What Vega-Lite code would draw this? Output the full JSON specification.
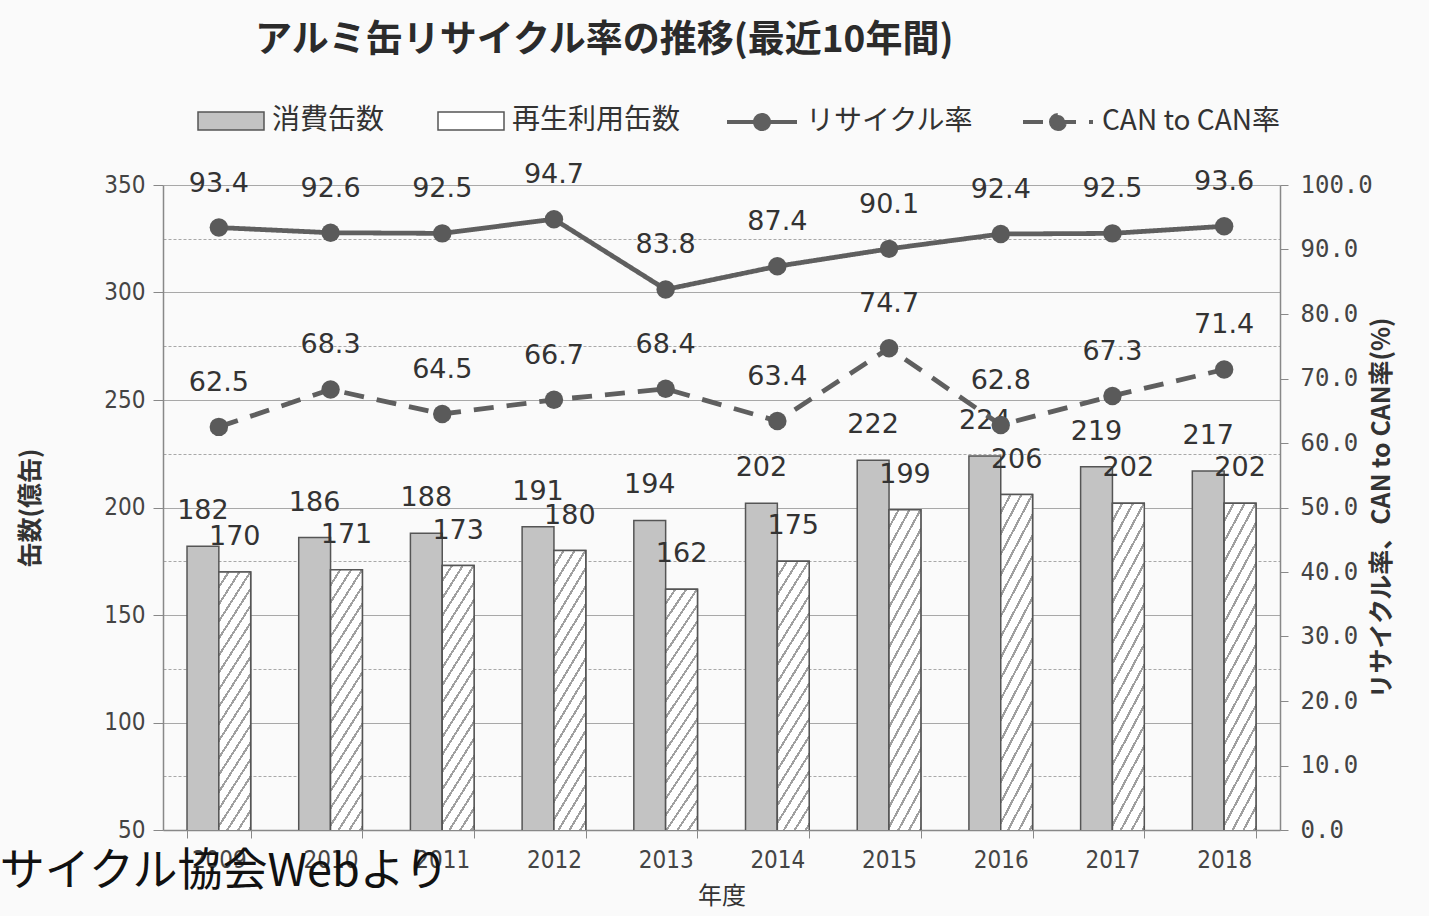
{
  "$schema": "https://vega.github.io/schema/vega-lite/v6.json",
  "width": 1117,
  "height": 645,
  "autosize": {"type": "none"},
  "padding": {"left": 163, "top": 185, "right": 149, "bottom": 86},
  "background": "#fafafa",
  "title": {
    "text": "アルミ缶リサイクル率の推移(最近10年間)",
    "anchor": "start",
    "frame": "group",
    "dx": 92,
    "offset": 25,
    "font": "Noto Sans CJK JP",
    "fontSize": 37,
    "fontWeight": "bold",
    "color": "#2b2b2b"
  },
  "config": {
    "view": {"stroke": null},
    "text": {"font": "DejaVu Sans", "fontSize": 27, "color": "#333333"},
    "legend": {
      "direction": "horizontal",
      "title": null,
      "labelFont": "Noto Sans CJK JP",
      "labelFontSize": 28,
      "labelColor": "#333333",
      "labelLimit": 400,
      "labelOffset": 7
    }
  },
  "data": {
    "values": [
      {"year": "2009", "series": "消費缶数", "value": 182},
      {"year": "2010", "series": "消費缶数", "value": 186},
      {"year": "2011", "series": "消費缶数", "value": 188},
      {"year": "2012", "series": "消費缶数", "value": 191},
      {"year": "2013", "series": "消費缶数", "value": 194},
      {"year": "2014", "series": "消費缶数", "value": 202},
      {"year": "2015", "series": "消費缶数", "value": 222},
      {"year": "2016", "series": "消費缶数", "value": 224},
      {"year": "2017", "series": "消費缶数", "value": 219},
      {"year": "2018", "series": "消費缶数", "value": 217},
      {"year": "2009", "series": "再生利用缶数", "value": 170},
      {"year": "2010", "series": "再生利用缶数", "value": 171},
      {"year": "2011", "series": "再生利用缶数", "value": 173},
      {"year": "2012", "series": "再生利用缶数", "value": 180},
      {"year": "2013", "series": "再生利用缶数", "value": 162},
      {"year": "2014", "series": "再生利用缶数", "value": 175},
      {"year": "2015", "series": "再生利用缶数", "value": 199},
      {"year": "2016", "series": "再生利用缶数", "value": 206},
      {"year": "2017", "series": "再生利用缶数", "value": 202},
      {"year": "2018", "series": "再生利用缶数", "value": 202},
      {"year": "2009", "series": "リサイクル率", "value": 93.4},
      {"year": "2010", "series": "リサイクル率", "value": 92.6},
      {"year": "2011", "series": "リサイクル率", "value": 92.5},
      {"year": "2012", "series": "リサイクル率", "value": 94.7},
      {"year": "2013", "series": "リサイクル率", "value": 83.8},
      {"year": "2014", "series": "リサイクル率", "value": 87.4},
      {"year": "2015", "series": "リサイクル率", "value": 90.1},
      {"year": "2016", "series": "リサイクル率", "value": 92.4},
      {"year": "2017", "series": "リサイクル率", "value": 92.5},
      {"year": "2018", "series": "リサイクル率", "value": 93.6},
      {"year": "2009", "series": "CAN to CAN率", "value": 62.5},
      {"year": "2010", "series": "CAN to CAN率", "value": 68.3},
      {"year": "2011", "series": "CAN to CAN率", "value": 64.5},
      {"year": "2012", "series": "CAN to CAN率", "value": 66.7},
      {"year": "2013", "series": "CAN to CAN率", "value": 68.4},
      {"year": "2014", "series": "CAN to CAN率", "value": 63.4},
      {"year": "2015", "series": "CAN to CAN率", "value": 74.7},
      {"year": "2016", "series": "CAN to CAN率", "value": 62.8},
      {"year": "2017", "series": "CAN to CAN率", "value": 67.3},
      {"year": "2018", "series": "CAN to CAN率", "value": 71.4},
      {"year": "2009", "series": "出典", "value": 50, "note": "サイクル協会Webより"}
    ]
  },
  "encoding": {
    "x": {
      "field": "year",
      "type": "nominal",
      "sort": null,
      "scale": {"paddingInner": 0.43, "paddingOuter": 0.215},
      "axis": {
        "title": "年度",
        "labelAngle": 0,
        "tickBand": "extent",
        "tickSize": 8,
        "tickColor": "#888888",
        "domainColor": "#888888",
        "domainWidth": 1.5,
        "labelFont": "DejaVu Sans Condensed",
        "labelFontSize": 24,
        "labelColor": "#444444",
        "labelPadding": 10,
        "titleFont": "Noto Sans CJK JP",
        "titleFontSize": 24,
        "titleFontWeight": "normal",
        "titleColor": "#333333",
        "titlePadding": 12
      }
    }
  },
  "layer": [
    {
      "encoding": {
        "y": {
          "field": "value",
          "type": "quantitative",
          "scale": {"domain": [50, 350], "nice": false, "zero": false},
          "axis": {
            "orient": "left",
            "values": [50, 75, 100, 125, 150, 175, 200, 225, 250, 275, 300, 325, 350],
            "labelExpr": "datum.value % 50 === 0 ? datum.label : ''",
            "title": "缶数(億缶)",
            "titleFont": "Noto Sans CJK JP",
            "titleFontSize": 25,
            "titleFontWeight": "bold",
            "titleColor": "#333333",
            "titlePadding": 60,
            "labelFont": "DejaVu Sans Condensed",
            "labelFontSize": 24,
            "labelColor": "#444444",
            "labelPadding": 8,
            "tickSize": 10,
            "tickColor": {"condition": {"test": "datum.value % 50 === 0", "value": "#888888"}, "value": "transparent"},
            "domainColor": "#888888",
            "domainWidth": 1.5,
            "grid": true,
            "gridColor": "#a8a8a8",
            "gridWidth": 1.2,
            "gridDash": {"condition": {"test": "datum.value % 50 === 0", "value": []}, "value": [3, 2]}
          }
        }
      },
      "layer": [
        {
          "transform": [{"filter": {"field": "series", "oneOf": ["消費缶数", "再生利用缶数"]}}],
          "mark": {"type": "bar", "stroke": "#555555", "strokeWidth": 1.5, "opacity": 1, "clip": true},
          "encoding": {
            "xOffset": {"field": "series", "type": "nominal", "scale": {"domain": ["消費缶数", "再生利用缶数"], "paddingInner": 0, "paddingOuter": 0}},
            "color": {
              "field": "series",
              "type": "nominal",
              "scale": {"domain": ["消費缶数", "再生利用缶数"], "range": ["#c3c3c3", "#ffffff"]},
              "legend": {
                "orient": "none",
                "legendX": 34,
                "legendY": -98,
                "columnPadding": 50,
                "symbolType": "M-1,-0.27H1V0.27H-1Z",
                "symbolSize": 4356,
                "symbolStrokeColor": "#555555",
                "symbolStrokeWidth": 1.5,
                "symbolOpacity": 1
              }
            }
          }
        },
        {
          "transform": [{"filter": "datum.series === '再生利用缶数'"}],
          "mark": {
            "type": "bar",
            "clip": true,
            "stroke": "#555555",
            "strokeWidth": 1.5,
            "fill": {
              "gradient": "linear", "x1": 0, "y1": 0, "x2": 0.15, "y2": 1.1,
              "stops": [
                {"offset": 0, "color": "#ffffff"}, {"offset": 0.0325, "color": "#ffffff"}, {"offset": 0.0325, "color": "#a0a0a0"}, {"offset": 0.041667, "color": "#a0a0a0"},
                {"offset": 0.041667, "color": "#ffffff"}, {"offset": 0.074167, "color": "#ffffff"}, {"offset": 0.074167, "color": "#a0a0a0"}, {"offset": 0.083333, "color": "#a0a0a0"},
                {"offset": 0.083333, "color": "#ffffff"}, {"offset": 0.115833, "color": "#ffffff"}, {"offset": 0.115833, "color": "#a0a0a0"}, {"offset": 0.125, "color": "#a0a0a0"},
                {"offset": 0.125, "color": "#ffffff"}, {"offset": 0.1575, "color": "#ffffff"}, {"offset": 0.1575, "color": "#a0a0a0"}, {"offset": 0.166667, "color": "#a0a0a0"},
                {"offset": 0.166667, "color": "#ffffff"}, {"offset": 0.199167, "color": "#ffffff"}, {"offset": 0.199167, "color": "#a0a0a0"}, {"offset": 0.208333, "color": "#a0a0a0"},
                {"offset": 0.208333, "color": "#ffffff"}, {"offset": 0.240833, "color": "#ffffff"}, {"offset": 0.240833, "color": "#a0a0a0"}, {"offset": 0.25, "color": "#a0a0a0"},
                {"offset": 0.25, "color": "#ffffff"}, {"offset": 0.2825, "color": "#ffffff"}, {"offset": 0.2825, "color": "#a0a0a0"}, {"offset": 0.291667, "color": "#a0a0a0"},
                {"offset": 0.291667, "color": "#ffffff"}, {"offset": 0.324167, "color": "#ffffff"}, {"offset": 0.324167, "color": "#a0a0a0"}, {"offset": 0.333333, "color": "#a0a0a0"},
                {"offset": 0.333333, "color": "#ffffff"}, {"offset": 0.365833, "color": "#ffffff"}, {"offset": 0.365833, "color": "#a0a0a0"}, {"offset": 0.375, "color": "#a0a0a0"},
                {"offset": 0.375, "color": "#ffffff"}, {"offset": 0.4075, "color": "#ffffff"}, {"offset": 0.4075, "color": "#a0a0a0"}, {"offset": 0.416667, "color": "#a0a0a0"},
                {"offset": 0.416667, "color": "#ffffff"}, {"offset": 0.449167, "color": "#ffffff"}, {"offset": 0.449167, "color": "#a0a0a0"}, {"offset": 0.458333, "color": "#a0a0a0"},
                {"offset": 0.458333, "color": "#ffffff"}, {"offset": 0.490833, "color": "#ffffff"}, {"offset": 0.490833, "color": "#a0a0a0"}, {"offset": 0.5, "color": "#a0a0a0"},
                {"offset": 0.5, "color": "#ffffff"}, {"offset": 0.5325, "color": "#ffffff"}, {"offset": 0.5325, "color": "#a0a0a0"}, {"offset": 0.541667, "color": "#a0a0a0"},
                {"offset": 0.541667, "color": "#ffffff"}, {"offset": 0.574167, "color": "#ffffff"}, {"offset": 0.574167, "color": "#a0a0a0"}, {"offset": 0.583333, "color": "#a0a0a0"},
                {"offset": 0.583333, "color": "#ffffff"}, {"offset": 0.615833, "color": "#ffffff"}, {"offset": 0.615833, "color": "#a0a0a0"}, {"offset": 0.625, "color": "#a0a0a0"},
                {"offset": 0.625, "color": "#ffffff"}, {"offset": 0.6575, "color": "#ffffff"}, {"offset": 0.6575, "color": "#a0a0a0"}, {"offset": 0.666667, "color": "#a0a0a0"},
                {"offset": 0.666667, "color": "#ffffff"}, {"offset": 0.699167, "color": "#ffffff"}, {"offset": 0.699167, "color": "#a0a0a0"}, {"offset": 0.708333, "color": "#a0a0a0"},
                {"offset": 0.708333, "color": "#ffffff"}, {"offset": 0.740833, "color": "#ffffff"}, {"offset": 0.740833, "color": "#a0a0a0"}, {"offset": 0.75, "color": "#a0a0a0"},
                {"offset": 0.75, "color": "#ffffff"}, {"offset": 0.7825, "color": "#ffffff"}, {"offset": 0.7825, "color": "#a0a0a0"}, {"offset": 0.791667, "color": "#a0a0a0"},
                {"offset": 0.791667, "color": "#ffffff"}, {"offset": 0.824167, "color": "#ffffff"}, {"offset": 0.824167, "color": "#a0a0a0"}, {"offset": 0.833333, "color": "#a0a0a0"},
                {"offset": 0.833333, "color": "#ffffff"}, {"offset": 0.865833, "color": "#ffffff"}, {"offset": 0.865833, "color": "#a0a0a0"}, {"offset": 0.875, "color": "#a0a0a0"},
                {"offset": 0.875, "color": "#ffffff"}, {"offset": 0.9075, "color": "#ffffff"}, {"offset": 0.9075, "color": "#a0a0a0"}, {"offset": 0.916667, "color": "#a0a0a0"},
                {"offset": 0.916667, "color": "#ffffff"}, {"offset": 0.949167, "color": "#ffffff"}, {"offset": 0.949167, "color": "#a0a0a0"}, {"offset": 0.958333, "color": "#a0a0a0"},
                {"offset": 0.958333, "color": "#ffffff"}, {"offset": 0.990833, "color": "#ffffff"}, {"offset": 0.990833, "color": "#a0a0a0"}, {"offset": 1, "color": "#a0a0a0"}
              ]
            }
          },
          "encoding": {
            "xOffset": {"field": "series", "type": "nominal", "scale": {"domain": ["消費缶数", "再生利用缶数"], "paddingInner": 0, "paddingOuter": 0}}
          }
        },
        {
          "transform": [{"filter": {"field": "series", "oneOf": ["消費缶数", "再生利用缶数"]}}],
          "mark": {"type": "text", "baseline": "middle", "dy": -35},
          "encoding": {
            "xOffset": {"field": "series", "type": "nominal", "scale": {"domain": ["消費缶数", "再生利用缶数"], "paddingInner": 0, "paddingOuter": 0}},
            "text": {"field": "value", "type": "quantitative"}
          }
        },
        {
          "transform": [{"filter": "datum.series === '出典'"}],
          "mark": {
            "type": "text",
            "align": "left",
            "baseline": "middle",
            "dx": -219,
            "dy": 42,
            "font": "Noto Sans CJK JP",
            "fontSize": 45,
            "color": "#111111"
          },
          "encoding": {
            "text": {"field": "note", "type": "nominal"}
          }
        }
      ]
    },
    {
      "transform": [{"filter": {"field": "series", "oneOf": ["リサイクル率", "CAN to CAN率"]}}],
      "encoding": {
        "y": {
          "field": "value",
          "type": "quantitative",
          "scale": {"domain": [0, 100], "nice": false},
          "axis": {
            "orient": "right",
            "values": [0, 10, 20, 30, 40, 50, 60, 70, 80, 90, 100],
            "format": ".1f",
            "title": "リサイクル率、CAN to CAN率(%)",
            "titleAngle": 270,
            "titleFont": "Noto Sans CJK JP",
            "titleFontSize": 25,
            "titleFontWeight": "bold",
            "titleColor": "#333333",
            "titlePadding": 22,
            "labelFont": "DejaVu Sans Mono",
            "labelFontSize": 24,
            "labelColor": "#444444",
            "labelPadding": 12,
            "tickSize": 8,
            "tickColor": "#888888",
            "domainColor": "#888888",
            "domainWidth": 1.5,
            "grid": false
          }
        }
      },
      "layer": [
        {
          "mark": {"type": "line", "strokeWidth": 4.8, "stroke": "#5f5f5f", "point": {"filled": true, "size": 340, "opacity": 1, "color": "#5a5a5a"}},
          "encoding": {
            "strokeDash": {
              "field": "series",
              "type": "nominal",
              "scale": {"domain": ["リサイクル率", "CAN to CAN率"], "range": [[1, 0], [20, 13]]},
              "legend": {
                "orient": "none",
                "legendX": 562,
                "legendY": -100,
                "columnPadding": 40,
                "symbolType": "M-1,0H1M-0.2,0A0.2,0.2 0 1,0 0.2,0A0.2,0.2 0 1,0 -0.2,0",
                "symbolSize": 4900,
                "symbolStrokeColor": "#5f5f5f",
                "symbolFillColor": "#5f5f5f",
                "symbolStrokeWidth": 4,
                "symbolOpacity": 1,
                "encode": {
                  "symbols": {
                    "update": {
                      "stroke": {"value": "#5f5f5f"},
                      "strokeWidth": {"value": 4},
                      "fill": {"value": "#5f5f5f"},
                      "opacity": {"value": 1}
                    }
                  }
                }
              }
            }
          }
        },
        {
          "mark": {"type": "text", "baseline": "middle", "dy": -44},
          "encoding": {
            "text": {"field": "value", "type": "quantitative", "format": ".1f"}
          }
        }
      ]
    }
  ],
  "resolve": {"scale": {"y": "independent"}}
}
